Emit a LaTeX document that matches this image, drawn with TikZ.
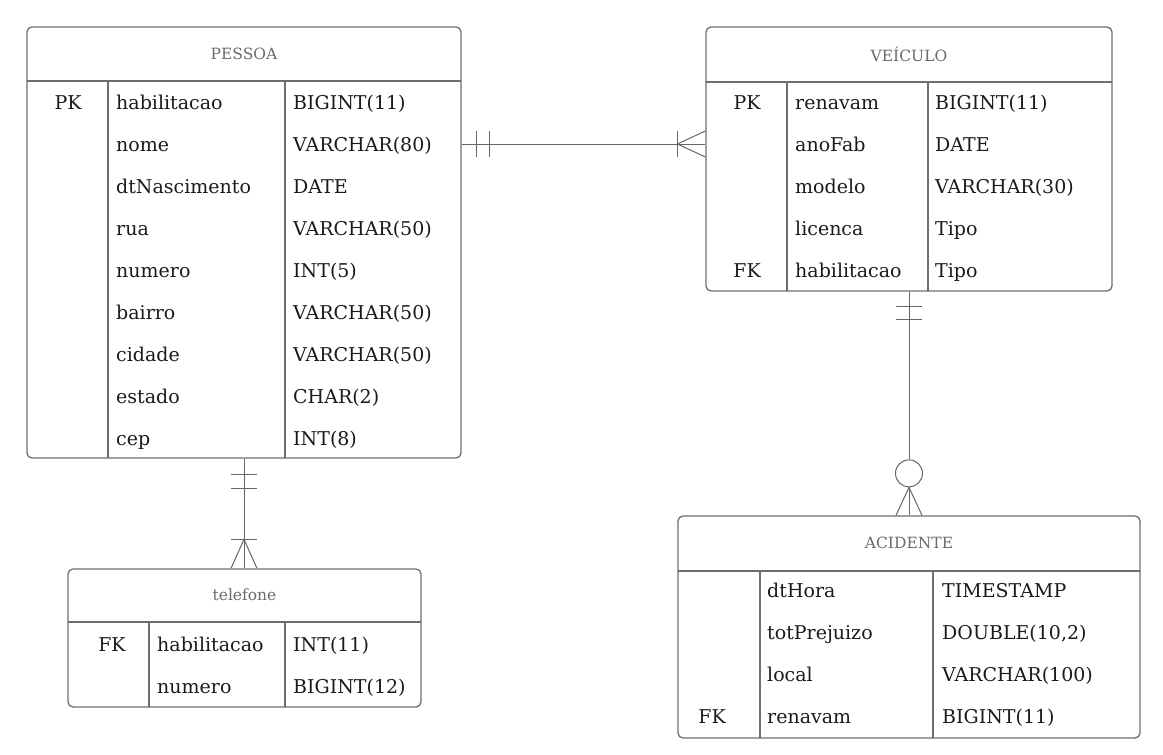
\documentclass[tikz,border=0pt]{standalone}
\usepackage{fontspec}
\setmainfont{DejaVu Serif}
\definecolor{linec}{HTML}{6E6E6E}
\definecolor{relc}{HTML}{666666}
\definecolor{txt}{HTML}{1A1A1A}
\definecolor{ttlc}{HTML}{6A6A6A}
\newcommand{\fieldfont}{\fontsize{19}{21}\selectfont}
\newcommand{\titlefont}{\fontsize{15.5}{18}\selectfont}
\tikzset{
  ent/.style={draw=linec, line width=1.3pt, rounded corners=5pt, inner sep=0pt},
  grid/.style={draw=linec, line width=1.2pt},
  cell/.style={anchor=base west, inner sep=0pt, font=\fieldfont, text=txt},
  keyc/.style={anchor=base, inner sep=0pt, font=\fieldfont, text=txt},
  ttl/.style={anchor=center, inner sep=0pt, font=\titlefont, text=ttlc},
  rel/.style={draw=relc, line width=1pt},
}
\begin{document}
\begin{tikzpicture}[x=1pt,y=-1pt]
\useasboundingbox (0,0) rectangle (1163,755);

% ---------- PESSOA ----------
\node[ent, minimum width=434pt, minimum height=431pt] (pessoa) at (244,242.5) {};
\node[ttl] (pessoaT) at (244,54) {PESSOA};
\draw[grid] (27,81) -- (461,81) (108,81) -- (108,458) (285,81) -- (285,458);
\node[keyc] (pessoaPK) at (68,109) {PK};
\foreach \n/\t [count=\i] in {habilitacao/BIGINT(11), nome/VARCHAR(80), dtNascimento/DATE, rua/VARCHAR(50), numero/INT(5), bairro/VARCHAR(50), cidade/VARCHAR(50), estado/CHAR(2), cep/INT(8)}{
  \node[cell] (pn\i) at (116,67+42*\i) {\n};
  \node[cell] (pt\i) at (293,67+42*\i) {\t};
}

% ---------- VEICULO ----------
\node[ent, minimum width=406pt, minimum height=264pt] (veiculo) at (909,159) {};
\node[ttl] (veiculoT) at (909,54) {VEÍCULO};
\draw[grid] (706,82) -- (1112,82) (787,82) -- (787,291) (928,82) -- (928,291);
\node[keyc] (veiculoPK) at (747,109) {PK};
\node[keyc] (veiculoFK) at (747,277) {FK};
\foreach \n/\t [count=\i] in {renavam/BIGINT(11), anoFab/DATE, modelo/VARCHAR(30), licenca/Tipo, habilitacao/Tipo}{
  \node[cell] (vn\i) at (795,67+42*\i) {\n};
  \node[cell] (vt\i) at (935,67+42*\i) {\t};
}

% ---------- telefone ----------
\node[ent, minimum width=353pt, minimum height=138pt] (telefone) at (244.5,638) {};
\node[ttl] (telefoneT) at (244.5,595) {telefone};
\draw[grid] (68,622) -- (421,622) (149,622) -- (149,707) (285,622) -- (285,707);
\node[keyc] (telefoneFK) at (112,651) {FK};
\foreach \n/\t [count=\i] in {habilitacao/INT(11), numero/BIGINT(12)}{
  \node[cell] (tn\i) at (157,609+42*\i) {\n};
  \node[cell] (tt\i) at (293,609+42*\i) {\t};
}

% ---------- ACIDENTE ----------
\node[ent, minimum width=462pt, minimum height=222pt] (acidente) at (909,627) {};
\node[ttl] (acidenteT) at (909,543) {ACIDENTE};
\draw[grid] (678,571) -- (1140,571) (760,571) -- (760,738) (933,571) -- (933,738);
\node[keyc] (acidenteFK) at (712,723) {FK};
\foreach \n/\t [count=\i] in {dtHora/TIMESTAMP, totPrejuizo/{DOUBLE(10,2)}, local/VARCHAR(100), renavam/BIGINT(11)}{
  \node[cell] (an\i) at (767,555+42*\i) {\n};
  \node[cell] (at\i) at (942,555+42*\i) {\t};
}

% ---------- relationships ----------
% PESSOA -- VEICULO (one and only one -- one or many)
\coordinate (r1) at (0,144);
\draw[rel] (pessoa.east |- r1) coordinate (a1) -- (veiculo.west |- r1) coordinate (b1);
\draw[rel] ([xshift=15pt]a1) ++(0,-13) -- ++(0,26);
\draw[rel] ([xshift=28pt]a1) ++(0,-13) -- ++(0,26);
\draw[rel] ([xshift=-28pt]b1) ++(0,-13) -- ++(0,26);
\draw[rel] ([xshift=-28pt]b1) -- ([yshift=-13pt]b1);
\draw[rel] ([xshift=-28pt]b1) -- ([yshift=13pt]b1);

% PESSOA -- telefone
\draw[rel] (pessoa.south) coordinate (a2) -- (pessoa.south |- telefone.north) coordinate (b2);
\draw[rel] ([yshift=-16pt]a2) ++(-13,0) -- ++(26,0);
\draw[rel] ([yshift=-30pt]a2) ++(-13,0) -- ++(26,0);
\draw[rel] ([yshift=29pt]b2) ++(-13,0) -- ++(26,0);
\draw[rel] ([yshift=29pt]b2) -- ([xshift=-13pt]b2);
\draw[rel] ([yshift=29pt]b2) -- ([xshift=13pt]b2);

% VEICULO -- ACIDENTE (one and only one -- zero or many)
\coordinate (a3) at (veiculo.south);
\coordinate (b3) at (veiculo.south |- acidente.north);
\node[draw=relc, line width=1pt, circle, minimum size=27pt, inner sep=0pt] (ring3) at ([yshift=42pt]b3) {};
\draw[rel] (a3) -- (ring3.north);
\draw[rel] (ring3.south) -- (b3);
\draw[rel] ([yshift=-15pt]a3) ++(-13,0) -- ++(26,0);
\draw[rel] ([yshift=-28pt]a3) ++(-13,0) -- ++(26,0);
\draw[rel] ([yshift=28pt]b3) -- ([xshift=-13pt]b3);
\draw[rel] ([yshift=28pt]b3) -- ([xshift=13pt]b3);
\end{tikzpicture}
\end{document}
